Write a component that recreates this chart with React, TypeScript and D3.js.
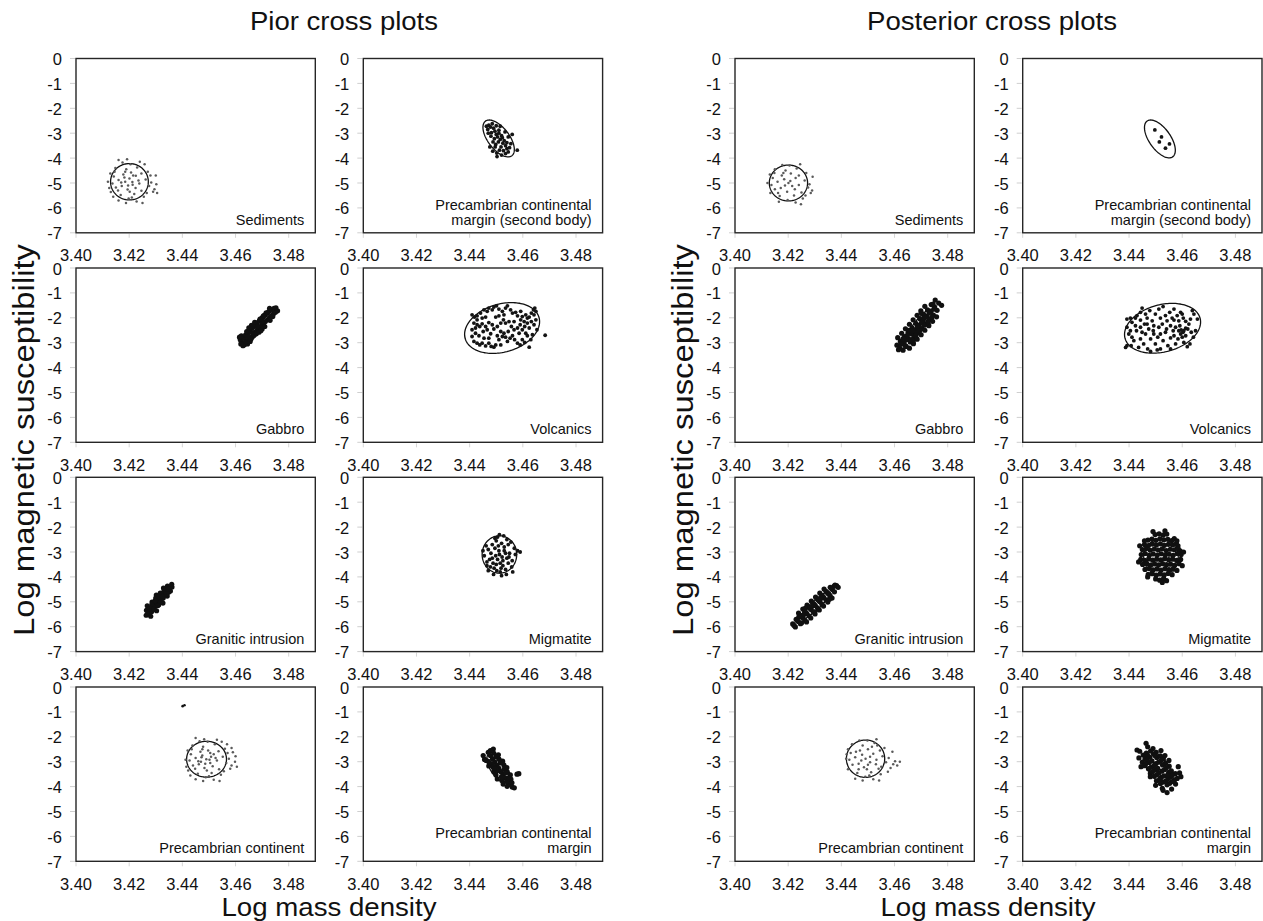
import React from 'react';
import * as d3 from 'd3';

type Pt = [number, number];
// [centre density, centre log susceptibility, half-width (density), half-height (log k), correlation]
type Ell = [number, number, number, number, number];

const X_TICKS = [3.40, 3.42, 3.44, 3.46, 3.48];
const Y_TICKS = [0, -1, -2, -3, -4, -5, -6, -7];
const X_DOMAIN: [number, number] = [3.40, 3.49];
const Y_DOMAIN: [number, number] = [0, -7];

const GROUP_TITLES = ['Pior cross plots', 'Posterior cross plots'];
const X_TITLE = 'Log mass density';
const Y_TITLE = 'Log magnetic susceptibility';

// ---------------- prior samples ----------------
const priorSediments: Pt[] = [
  [3.4185,-4.95],[3.4201,-4.82],[3.4213,-5.07],[3.4172,-5.12],[3.4225,-4.71],[3.4194,-5.26],[3.4160,-4.88],[3.4238,-5.02],
  [3.4207,-4.58],[3.4178,-4.66],[3.4246,-5.31],[3.4150,-5.18],[3.4219,-5.44],[3.4189,-4.45],[3.4262,-4.86],[3.4142,-4.74],
  [3.4230,-4.38],[3.4168,-5.48],[3.4255,-5.55],[3.4137,-5.02],[3.4275,-5.12],[3.4198,-5.62],[3.4148,-4.40],[3.4270,-4.55],
  [3.4283,-4.98],[3.4205,-4.25],[3.4175,-4.18],[3.4129,-4.62],[3.4240,-4.15],[3.4160,-5.70],[3.4228,-5.74],[3.4290,-5.35],
  [3.4131,-5.36],[3.4300,-4.70],[3.4302,-5.05],[3.4295,-5.25],[3.4305,-5.40],[3.4250,-5.80],[3.4188,-5.80],[3.4120,-4.95],
  [3.4192,-4.05],[3.4160,-4.08],[3.4258,-4.25],[3.4140,-5.55],[3.4212,-4.96],[3.4196,-5.10],[3.4182,-4.78],[3.4224,-5.20],
  [3.4170,-4.98],[3.4235,-4.90],[3.4202,-5.35],[3.4158,-5.30],[3.4246,-4.62],[3.4185,-4.55],[3.4215,-4.70],[3.4266,-5.40],
  [3.4145,-4.55],[3.4280,-4.70],[3.4125,-5.20],[3.4210,-5.58]
];
const priorSedimentsEllipse: Ell = [3.4201, -4.95, 0.0071, 0.73, 0];

const priorMarginSecond: Pt[] = [
  [3.4472,-2.68],[3.4478,-2.75],[3.4485,-2.62],[3.4490,-2.80],[3.4468,-2.85],[3.4495,-2.92],[3.4482,-2.98],[3.4500,-3.05],
  [3.4510,-2.88],[3.4505,-3.15],[3.4493,-3.22],[3.4515,-3.25],[3.4520,-3.10],[3.4508,-3.35],[3.4525,-3.40],[3.4498,-3.45],
  [3.4530,-3.30],[3.4518,-3.55],[3.4535,-3.50],[3.4540,-3.62],[3.4527,-3.70],[3.4545,-3.75],[3.4512,-3.68],[3.4550,-3.58],
  [3.4502,-3.80],[3.4520,-3.88],[3.4487,-3.72],[3.4476,-3.55],[3.4533,-2.95],[3.4545,-3.15],[3.4560,-3.05],[3.4579,-3.68],
  [3.4503,-3.94],[3.4488,-3.35],[3.4480,-3.12],[3.4515,-2.72],[3.4500,-2.70],[3.4463,-2.72],[3.4540,-3.38],[3.4555,-3.42],
  [3.4510,-3.00],[3.4523,-3.18],[3.4496,-3.55],[3.4535,-3.82],[3.4470,-3.00]
];
const priorMarginSecondEllipse: Ell = [3.4509, -3.21, 0.0059, 0.74, -0.6];

const priorGabbro: Pt[] = [
  [3.4625,-3.00],[3.4633,-3.08],[3.4618,-2.88],[3.4640,-2.95],[3.4630,-2.80],[3.4645,-3.05],[3.4622,-2.72],[3.4650,-2.85],
  [3.4638,-2.68],[3.4655,-2.95],[3.4648,-2.62],[3.4660,-2.78],[3.4642,-2.55],[3.4668,-2.70],[3.4655,-2.50],[3.4672,-2.58],
  [3.4662,-2.42],[3.4680,-2.52],[3.4670,-2.35],[3.4685,-2.45],[3.4676,-2.28],[3.4692,-2.38],[3.4682,-2.20],[3.4698,-2.30],
  [3.4690,-2.12],[3.4705,-2.22],[3.4697,-2.05],[3.4712,-2.15],[3.4703,-1.98],[3.4720,-2.08],[3.4710,-1.90],[3.4727,-2.00],
  [3.4718,-1.82],[3.4735,-1.92],[3.4725,-1.75],[3.4742,-1.85],[3.4735,-1.68],[3.4750,-1.78],[3.4745,-1.62],[3.4758,-1.72],
  [3.4728,-1.62],[3.4665,-2.62],[3.4678,-2.64],[3.4688,-2.58],[3.4700,-2.45],[3.4660,-2.30],[3.4672,-2.18],[3.4695,-2.52],
  [3.4710,-2.35],[3.4715,-1.80],[3.4730,-2.10],[3.4650,-2.40],[3.4636,-2.98],[3.4628,-3.12],[3.4620,-3.05],[3.4645,-2.75],
  [3.4683,-2.35],[3.4700,-2.15],[3.4740,-1.95],[3.4752,-1.60],[3.4615,-2.78],[3.4658,-2.85],[3.4705,-1.92],[3.4692,-2.05]
];
const priorGabbroEllipse: Ell = [3.4687, -2.33, 0.0040, 0.60, 0.88];

const priorVolcanics: Pt[] = [
  [3.4409,-1.88],[3.4418,-1.97],[3.4428,-1.92],[3.4441,-1.81],[3.4454,-1.68],[3.4466,-1.74],[3.4472,-1.61],[3.4485,-1.68],
  [3.4491,-1.57],[3.4501,-1.52],[3.4510,-1.65],[3.4523,-1.74],[3.4535,-1.61],[3.4542,-1.52],[3.4554,-1.68],[3.4561,-1.81],
  [3.4573,-1.78],[3.4580,-1.92],[3.4592,-1.74],[3.4598,-1.95],[3.4611,-1.88],[3.4617,-2.01],[3.4624,-1.97],[3.4632,-1.81],
  [3.4640,-1.68],[3.4642,-1.88],[3.4649,-1.74],[3.4645,-1.61],
  [3.4416,-2.21],[3.4428,-2.28],[3.4438,-2.35],[3.4447,-2.24],[3.4460,-2.35],[3.4472,-2.19],[3.4485,-2.28],[3.4491,-2.45],
  [3.4504,-2.35],[3.4517,-2.21],[3.4527,-2.08],[3.4535,-2.21],[3.4548,-2.15],[3.4557,-2.35],[3.4567,-2.15],[3.4580,-2.41],
  [3.4590,-2.28],[3.4598,-2.48],[3.4607,-2.35],[3.4617,-2.21],[3.4624,-2.41],[3.4632,-2.15],[3.4642,-2.28],[3.4649,-2.08],
  [3.4409,-2.75],[3.4416,-2.95],[3.4428,-3.02],[3.4438,-3.09],[3.4447,-3.02],[3.4460,-3.13],[3.4472,-3.02],[3.4481,-3.15],
  [3.4491,-3.18],[3.4498,-3.09],[3.4510,-2.88],[3.4523,-2.75],[3.4529,-2.62],[3.4535,-2.78],[3.4542,-2.95],[3.4552,-2.82],
  [3.4561,-2.72],[3.4569,-2.88],[3.4580,-3.02],[3.4590,-3.09],[3.4598,-2.88],[3.4607,-2.99],[3.4617,-2.72],[3.4624,-3.18],
  [3.4630,-2.88],[3.4636,-2.68],[3.4422,-2.62],[3.4435,-2.72],[3.4451,-2.55],[3.4466,-2.48],[3.4479,-2.64],[3.4504,-2.72],
  [3.4517,-2.55],[3.4545,-2.55],[3.4586,-2.62],[3.4611,-2.62],[3.4653,-2.48],[3.4684,-2.70],
  [3.4409,-2.48],[3.4422,-2.41],[3.4567,-2.48],[3.4517,-3.09],[3.4472,-2.82],[3.4454,-2.82],[3.4592,-2.08],[3.4605,-2.15],
  [3.4498,-1.97],[3.4510,-1.92],[3.4529,-1.88],[3.4460,-1.97],[3.4447,-2.01],[3.4428,-2.08]
];
const priorVolcanicsEllipse: Ell = [3.4522, -2.41, 0.0141, 1.02, 0.25];

const priorGranitic: Pt[] = [
  [3.4264,-5.54],[3.4281,-5.58],[3.4265,-5.34],[3.4284,-5.40],[3.4268,-5.16],[3.4303,-5.36],[3.4293,-5.17],[3.4286,-5.01],
  [3.4311,-5.12],[3.4301,-4.93],[3.4327,-5.05],[3.4302,-4.73],[3.4328,-4.85],[3.4317,-4.65],[3.4343,-4.77],[3.4336,-4.61],
  [3.4329,-4.45],[3.4355,-4.57],[3.4344,-4.37],[3.4361,-4.41],[3.4360,-4.30],[3.4274,-5.42],[3.4288,-5.23],[3.4312,-4.92],
  [3.4290,-5.05],[3.4296,-5.20],[3.4305,-5.05],[3.4315,-4.95],[3.4320,-4.90],[3.4300,-4.85],[3.4322,-4.70],[3.4330,-4.60],
  [3.4338,-4.68],[3.4310,-4.80],[3.4285,-5.12],[3.4278,-5.25],[3.4275,-5.48],[3.4292,-5.30],[3.4335,-4.50],[3.4348,-4.62],
  [3.4318,-5.02],[3.4308,-5.15],[3.4325,-4.78],[3.4298,-4.95],[3.4346,-4.49],[3.4269,-5.48]
];
const priorGraniticEllipse: Ell = [3.4312, -4.93, 0.0035, 0.45, 0.9];

const priorMigmatite: Pt[] = [
  [3.4512,-3.10],[3.4495,-2.85],[3.4530,-2.95],[3.4505,-3.30],[3.4540,-3.25],[3.4480,-3.05],[3.4520,-2.65],[3.4488,-3.45],
  [3.4550,-3.05],[3.4470,-2.90],[3.4525,-3.55],[3.4500,-2.55],[3.4545,-2.70],[3.4475,-3.30],[3.4560,-3.35],[3.4515,-3.80],
  [3.4492,-3.65],[3.4535,-3.70],[3.4505,-2.40],[3.4528,-2.35],[3.4465,-3.55],[3.4568,-2.85],[3.4558,-3.60],[3.4462,-2.75],
  [3.4510,-2.95],[3.4498,-3.15],[3.4522,-3.20],[3.4535,-3.05],[3.4485,-2.70],[3.4540,-2.50],[3.4515,-3.45],[3.4545,-3.45],
  [3.4478,-3.60],[3.4502,-3.75],[3.4520,-3.95],[3.4490,-3.90],[3.4572,-3.10],[3.4580,-2.95],[3.4455,-3.15],[3.4450,-2.95],
  [3.4530,-2.80],[3.4508,-2.75],[3.4485,-3.25],[3.4555,-2.60],[3.4495,-2.45],[3.4470,-3.75],[3.4562,-3.80],[3.4518,-3.65],
  [3.4538,-3.90],[3.4500,-3.50],[3.4525,-3.35],[3.4548,-3.20],[3.4465,-3.40],[3.4590,-3.00],[3.4512,-2.30]
];
const priorMigmatiteEllipse: Ell = [3.4512, -3.10, 0.0065, 0.75, 0];

const priorContinent: Pt[] = [
  [3.4490,-2.90],[3.4475,-2.75],[3.4505,-3.05],[3.4462,-3.10],[3.4518,-2.70],[3.4483,-3.25],[3.4450,-2.85],[3.4530,-2.95],
  [3.4497,-2.55],[3.4468,-2.60],[3.4538,-3.30],[3.4440,-3.15],[3.4510,-3.45],[3.4478,-2.40],[3.4552,-2.80],[3.4432,-2.70],
  [3.4522,-2.30],[3.4458,-3.48],[3.4545,-3.52],[3.4427,-2.95],[3.4565,-3.05],[3.4488,-3.62],[3.4438,-2.35],[3.4560,-2.48],
  [3.4575,-2.88],[3.4495,-2.20],[3.4465,-2.18],[3.4420,-2.55],[3.4530,-2.12],[3.4450,-3.70],[3.4518,-3.72],[3.4580,-3.28],
  [3.4422,-3.35],[3.4590,-2.62],[3.4598,-3.00],[3.4585,-3.15],[3.4605,-3.20],[3.4540,-3.78],[3.4478,-3.78],[3.4412,-2.92],
  [3.4482,-2.10],[3.4450,-2.05],[3.4548,-2.20],[3.4430,-3.55],[3.4502,-2.92],[3.4486,-3.08],[3.4472,-2.82],[3.4514,-3.18],
  [3.4460,-2.98],[3.4525,-2.85],[3.4492,-3.35],[3.4448,-3.28],[3.4536,-2.58],[3.4475,-2.50],[3.4505,-2.65],[3.4556,-3.38],
  [3.4435,-2.50],[3.4570,-2.65],[3.4415,-3.20],[3.4500,-3.58],[3.4568,-2.30],[3.4585,-2.45],[3.4600,-2.78],[3.4470,-3.00],
  [3.4508,-2.80]
];
const priorContinentStray: Pt[] = [[3.4401, -0.77], [3.4408, -0.73]];
const priorContinentEllipse: Ell = [3.4491, -2.90, 0.0075, 0.72, 0];

const priorMargin: Pt[] = [
  [3.4470,-2.62],[3.4489,-2.49],[3.4451,-2.75],[3.4478,-2.75],[3.4491,-2.66],[3.4456,-2.91],[3.4486,-2.88],[3.4508,-2.72],
  [3.4470,-2.99],[3.4494,-3.01],[3.4510,-2.90],[3.4472,-3.17],[3.4502,-3.14],[3.4524,-2.98],[3.4489,-3.23],[3.4510,-3.27],
  [3.4529,-3.14],[3.4491,-3.40],[3.4518,-3.40],[3.4540,-3.24],[3.4499,-3.53],[3.4526,-3.53],[3.4542,-3.42],[3.4504,-3.69],
  [3.4534,-3.66],[3.4553,-3.53],[3.4521,-3.75],[3.4542,-3.79],[3.4555,-3.70],[3.4526,-3.90],[3.4550,-3.92],[3.4559,-3.85],
  [3.4541,-3.99],[3.4560,-4.02],[3.4568,-4.05],[3.4578,-3.50],[3.4585,-3.48],[3.4462,-2.95],[3.4478,-2.55],[3.4515,-3.05],
  [3.4505,-3.35],[3.4530,-3.30],[3.4520,-3.60],[3.4495,-3.25],[3.4485,-3.10],[3.4540,-3.80],[3.4500,-2.80],[3.4535,-3.45],
  [3.4548,-3.65],[3.4475,-3.05]
];
const priorMarginEllipse: Ell = [3.4505, -3.22, 0.0040, 0.58, -0.6];

// ---------------- posterior samples ----------------
const postSediments: Pt[] = [
  [3.4201,-5.00],[3.4185,-4.85],[3.4215,-5.12],[3.4172,-5.20],[3.4228,-4.80],[3.4196,-5.35],[3.4160,-4.95],[3.4240,-5.08],
  [3.4210,-4.62],[3.4176,-4.70],[3.4250,-5.38],[3.4150,-5.25],[3.4222,-5.50],[3.4190,-4.50],[3.4262,-4.90],[3.4142,-4.80],
  [3.4232,-4.42],[3.4168,-5.52],[3.4255,-5.62],[3.4137,-5.08],[3.4275,-5.18],[3.4198,-5.68],[3.4150,-4.45],[3.4268,-4.60],
  [3.4280,-5.05],[3.4205,-4.30],[3.4178,-4.28],[3.4131,-4.66],[3.4245,-4.25],[3.4165,-5.75],[3.4228,-5.78],[3.4285,-5.40],
  [3.4133,-5.40],[3.4292,-4.75],[3.4290,-5.30],[3.4248,-5.85],[3.4122,-5.00],[3.4208,-4.92],[3.4188,-5.10],[3.4225,-5.25],
  [3.4240,-4.70],[3.4182,-4.60],[3.4162,-5.40],[3.4265,-5.50],[3.4148,-4.60]
];
const postSedimentsEllipse: Ell = [3.4201, -5.00, 0.0072, 0.72, 0];

const postMarginSecond: Pt[] = [
  [3.4497,-2.87],[3.4522,-3.15],[3.4514,-3.35],[3.4552,-3.43],[3.4537,-3.60]
];
const postMarginSecondEllipse: Ell = [3.4516, -3.23, 0.0058, 0.76, -0.6];

const postGabbro: Pt[] = [
  [3.4609,-3.10],[3.4620,-3.22],[3.4632,-3.30],
  [3.4612,-2.80],[3.4622,-2.94],[3.4635,-3.01],[3.4644,-3.15],[3.4656,-3.22],
  [3.4627,-2.62],[3.4637,-2.76],[3.4650,-2.83],[3.4659,-2.97],[3.4671,-3.04],
  [3.4641,-2.44],[3.4651,-2.58],[3.4664,-2.65],[3.4673,-2.79],[3.4685,-2.86],
  [3.4656,-2.26],[3.4666,-2.40],[3.4679,-2.47],[3.4688,-2.61],[3.4700,-2.68],
  [3.4670,-2.08],[3.4680,-2.22],[3.4693,-2.29],[3.4702,-2.43],[3.4714,-2.50],
  [3.4685,-1.90],[3.4695,-2.04],[3.4708,-2.11],[3.4717,-2.25],[3.4729,-2.32],
  [3.4699,-1.72],[3.4709,-1.86],[3.4722,-1.93],[3.4731,-2.07],[3.4743,-2.14],
  [3.4714,-1.54],[3.4724,-1.68],[3.4737,-1.75],[3.4746,-1.89],[3.4758,-1.96],
  [3.4738,-1.47],[3.4751,-1.57],[3.4760,-1.70],
  [3.4753,-1.29],[3.4766,-1.41],[3.4777,-1.50],
  [3.4615,-3.28],[3.4670,-2.95],[3.4745,-1.45],[3.4700,-1.80],[3.4655,-2.50],[3.4728,-2.28],[3.4690,-2.35],[3.4710,-2.00],
  [3.4675,-2.55],[3.4640,-2.90],
  [3.4625,-3.05],[3.4640,-3.12],[3.4632,-2.85],[3.4648,-2.70],[3.4662,-2.88],[3.4668,-2.52],[3.4680,-2.72],[3.4686,-2.32],
  [3.4695,-2.52],[3.4702,-2.18],[3.4712,-2.30],[3.4716,-1.98],[3.4726,-2.15],[3.4730,-1.80],[3.4740,-1.98],[3.4748,-1.65]
];
const postGabbroEllipse: Ell = [3.4692, -2.30, 0.0050, 0.65, 0.88];

const postVolcanics: Pt[] = [
  [3.4392,-2.05],[3.4405,-2.01],[3.4411,-2.18],[3.4430,-1.91],[3.4443,-1.78],[3.4449,-1.61],[3.4462,-1.85],[3.4468,-2.01],
  [3.4478,-1.71],[3.4487,-2.12],[3.4499,-1.85],[3.4512,-1.65],[3.4518,-2.01],[3.4528,-1.55],[3.4537,-1.91],[3.4543,-2.12],
  [3.4553,-1.78],[3.4562,-2.01],[3.4569,-1.65],[3.4581,-1.91],[3.4587,-2.12],[3.4594,-1.78],[3.4604,-2.01],[3.4613,-2.14],
  [3.4625,-2.25],[3.4631,-2.05],[3.4638,-1.71],[3.4644,-1.85],[3.4650,-2.52],[3.4642,-2.78],[3.4629,-3.05],[3.4619,-3.16],
  [3.4606,-2.99],[3.4594,-2.65],[3.4584,-2.85],[3.4575,-3.05],[3.4566,-2.52],[3.4556,-2.81],[3.4546,-3.12],[3.4537,-2.58],
  [3.4528,-2.92],[3.4518,-3.25],[3.4508,-2.78],[3.4499,-3.05],[3.4491,-2.52],[3.4481,-2.85],[3.4470,-3.25],[3.4462,-2.65],
  [3.4455,-3.05],[3.4443,-2.85],[3.4436,-3.19],[3.4428,-2.52],[3.4418,-2.92],[3.4408,-3.12],[3.4399,-2.65],[3.4392,-2.38],
  [3.4405,-2.52],[3.4424,-2.32],[3.4443,-2.38],[3.4458,-2.25],[3.4474,-2.45],[3.4493,-2.32],[3.4512,-2.38],[3.4525,-2.25],
  [3.4541,-2.45],[3.4556,-2.32],[3.4575,-2.38],[3.4591,-2.32],[3.4606,-2.52],[3.4621,-2.45],[3.4634,-2.58],[3.4613,-2.72],
  [3.4600,-2.78],[3.4569,-2.72],[3.4518,-2.65],[3.4493,-2.65],[3.4449,-2.58],[3.4411,-2.78],[3.4392,-3.12],[3.4387,-3.19],
  [3.4506,-3.29],[3.4481,-3.35],[3.4556,-3.25],[3.4587,-2.52],[3.4603,-2.58],[3.4596,-2.49],[3.4613,-2.42],[3.4443,-2.09],
  [3.4424,-2.01],[3.4468,-2.25],[3.4569,-2.09],[3.4600,-1.85],[3.4657,-2.05]
];
const postVolcanicsEllipse: Ell = [3.4526, -2.42, 0.0143, 1.0, 0.25];

const postGranitic: Pt[] = [
  [3.4217,-5.89],[3.4222,-5.95],[3.4227,-6.01],
  [3.4230,-5.70],[3.4238,-5.79],[3.4246,-5.88],
  [3.4239,-5.45],[3.4246,-5.54],[3.4254,-5.63],[3.4262,-5.72],[3.4269,-5.81],
  [3.4255,-5.29],[3.4262,-5.38],[3.4270,-5.47],[3.4278,-5.56],[3.4285,-5.65],
  [3.4271,-5.13],[3.4278,-5.22],[3.4286,-5.31],[3.4294,-5.40],[3.4301,-5.49],
  [3.4287,-4.97],[3.4294,-5.06],[3.4302,-5.15],[3.4310,-5.24],[3.4317,-5.33],
  [3.4303,-4.81],[3.4310,-4.90],[3.4318,-4.99],[3.4326,-5.08],[3.4333,-5.17],
  [3.4319,-4.65],[3.4326,-4.74],[3.4334,-4.83],[3.4342,-4.92],[3.4349,-5.01],
  [3.4335,-4.49],[3.4342,-4.58],[3.4350,-4.67],[3.4358,-4.76],[3.4365,-4.85],
  [3.4358,-4.42],[3.4366,-4.51],[3.4374,-4.60],
  [3.4376,-4.33],[3.4382,-4.35],[3.4388,-4.42],
  [3.4240,-5.60],[3.4300,-5.40],[3.4372,-4.38],[3.4355,-4.90],[3.4265,-5.25],[3.4250,-5.85],
  [3.4234,-5.75],[3.4250,-5.58],[3.4266,-5.42],[3.4282,-5.26],[3.4298,-5.10],[3.4314,-4.94],[3.4330,-4.78],
  [3.4346,-4.62],[3.4362,-4.46],[3.4258,-5.52],[3.4290,-5.18],[3.4322,-4.88],[3.4354,-4.70]
];
const postGraniticEllipse: Ell = [3.4302, -5.15, 0.0055, 0.55, 0.9];

const postMigmatite: Pt[] = [
  [3.4498,-2.30],[3.4513,-2.27],[3.4528,-2.32],[3.4542,-2.28],
  [3.4471,-2.52],[3.4486,-2.48],[3.4501,-2.53],[3.4516,-2.47],[3.4531,-2.51],[3.4546,-2.49],[3.4561,-2.54],[3.4570,-2.46],
  [3.4458,-2.70],[3.4473,-2.74],[3.4488,-2.68],[3.4503,-2.72],[3.4518,-2.67],[3.4533,-2.73],[3.4548,-2.69],[3.4563,-2.71],
  [3.4578,-2.66],[3.4584,-2.75],
  [3.4450,-2.90],[3.4465,-2.86],[3.4480,-2.93],[3.4495,-2.88],[3.4510,-2.92],[3.4525,-2.87],[3.4540,-2.94],[3.4555,-2.89],
  [3.4570,-2.91],[3.4585,-2.87],[3.4592,-2.95],
  [3.4446,-3.10],[3.4461,-3.06],[3.4476,-3.13],[3.4491,-3.08],[3.4506,-3.12],[3.4521,-3.07],[3.4536,-3.11],[3.4551,-3.09],
  [3.4566,-3.13],[3.4581,-3.06],[3.4596,-3.10],
  [3.4444,-3.30],[3.4459,-3.34],[3.4474,-3.28],[3.4489,-3.33],[3.4504,-3.29],[3.4519,-3.32],[3.4534,-3.27],[3.4549,-3.31],
  [3.4564,-3.29],[3.4579,-3.34],[3.4594,-3.30],
  [3.4451,-3.50],[3.4466,-3.46],[3.4481,-3.53],[3.4496,-3.48],[3.4511,-3.52],[3.4526,-3.47],[3.4541,-3.51],[3.4556,-3.49],
  [3.4571,-3.54],[3.4588,-3.47],
  [3.4460,-3.70],[3.4475,-3.66],[3.4490,-3.72],[3.4505,-3.68],[3.4520,-3.73],[3.4535,-3.67],[3.4550,-3.71],[3.4565,-3.69],
  [3.4580,-3.74],
  [3.4472,-3.90],[3.4487,-3.87],[3.4502,-3.93],[3.4517,-3.88],[3.4532,-3.92],[3.4547,-3.86],[3.4562,-3.91],
  [3.4500,-4.08],[3.4515,-4.13],[3.4530,-4.06],[3.4541,-4.15],
  [3.4490,-2.18],[3.4535,-2.15],[3.4440,-2.75],[3.4605,-3.00],[3.4436,-3.40],[3.4600,-3.55],[3.4525,-4.22],[3.4470,-4.00],
  [3.4580,-2.55],[3.4458,-2.55]
];
const postMigmatiteEllipse: Ell = [3.4520, -3.20, 0.0065, 0.72, 0];

const postContinent: Pt[] = [
  [3.4491,-2.88],[3.4478,-2.72],[3.4508,-3.02],[3.4465,-3.08],[3.4520,-2.68],[3.4485,-3.22],[3.4452,-2.82],[3.4532,-2.92],
  [3.4500,-2.50],[3.4470,-2.55],[3.4540,-3.28],[3.4442,-3.12],[3.4512,-3.42],[3.4480,-2.35],[3.4555,-2.78],[3.4435,-2.65],
  [3.4525,-2.25],[3.4460,-3.45],[3.4548,-3.50],[3.4430,-2.92],[3.4568,-3.02],[3.4490,-3.60],[3.4440,-2.30],[3.4562,-2.45],
  [3.4578,-2.85],[3.4498,-2.15],[3.4468,-2.15],[3.4425,-2.50],[3.4532,-2.10],[3.4452,-3.68],[3.4520,-3.70],[3.4585,-3.25],
  [3.4425,-3.30],[3.4592,-2.60],[3.4602,-2.98],[3.4595,-3.10],[3.4610,-3.15],[3.4542,-3.75],[3.4480,-3.75],[3.4418,-2.88],
  [3.4508,-2.80],[3.4475,-2.95],[3.4530,-3.10],[3.4496,-3.30],[3.4455,-2.60],[3.4545,-2.55],[3.4515,-2.40],[3.4465,-3.30],
  [3.4550,-3.20],[3.4500,-3.12],[3.4620,-3.00],[3.4575,-3.40],[3.4420,-2.70],[3.4535,-2.35],[3.4505,-3.55]
];
const postContinentEllipse: Ell = [3.4491, -2.88, 0.0072, 0.75, 0];

const postMargin: Pt[] = [
  [3.4437,-2.85],[3.4453,-2.73],[3.4465,-2.65],[3.4481,-2.57],[3.4490,-2.47],
  [3.4450,-3.02],[3.4460,-2.88],[3.4478,-2.82],[3.4492,-2.68],[3.4502,-2.62],
  [3.4458,-3.16],[3.4476,-3.03],[3.4486,-2.97],[3.4504,-2.83],[3.4518,-2.77],
  [3.4473,-3.28],[3.4483,-3.22],[3.4501,-3.08],[3.4511,-3.02],[3.4529,-2.88],
  [3.4480,-3.47],[3.4498,-3.33],[3.4508,-3.27],[3.4526,-3.13],[3.4536,-3.07],
  [3.4495,-3.58],[3.4505,-3.52],[3.4523,-3.38],[3.4533,-3.32],[3.4551,-3.18],
  [3.4503,-3.77],[3.4521,-3.63],[3.4531,-3.57],[3.4549,-3.43],[3.4559,-3.37],
  [3.4518,-3.88],[3.4528,-3.82],[3.4546,-3.68],[3.4556,-3.62],[3.4574,-3.48],
  [3.4525,-4.07],[3.4543,-3.93],[3.4553,-3.87],[3.4571,-3.73],[3.4581,-3.67],
  [3.4430,-2.53],[3.4440,-2.58],[3.4464,-2.26],[3.4543,-4.24],[3.4560,-4.10],[3.4590,-3.45],[3.4595,-3.60],[3.4470,-2.40],
  [3.4520,-2.55],[3.4535,-2.75],[3.4500,-3.95],[3.4575,-3.90],[3.4445,-3.20],[3.4550,-2.95],[3.4585,-3.20],[3.4480,-3.60],
  [3.4528,-4.15],[3.4512,-3.45],[3.4540,-3.25],[3.4495,-3.15],[3.4468,-2.95],[3.4562,-3.55],[3.4538,-3.78],
  [3.4470,-2.75],[3.4488,-3.40],[3.4515,-3.70],[3.4544,-3.55],[3.4520,-2.95],[3.4497,-2.75],[3.4566,-3.80],[3.4462,-3.10]
];
const postMarginEllipse: Ell = [3.4510, -3.25, 0.0050, 0.62, -0.5];

// ---------------- layout ----------------
const GROUP_LEFT = [[76, 363.3], [735, 1022.7]];
const ROW_TOP = [58.5, 268, 477.3, 687];
const PW = 239.3;
const PH = 174.3;
const TITLE_X = [344, 992];
const X_TITLE_X = [329, 988];
const Y_TITLE_X = [34, 693];
const FONT = "'Liberation Sans', Arial, Helvetica, sans-serif";

type Kind = 'grey' | 'dot' | 'dense';
interface PanelSpec {
  group: number; col: number; row: number;
  name: string[]; pts: Pt[]; ell: Ell; kind: Kind; extra?: Pt[];
}

const PANELS: PanelSpec[] = [
  { group: 0, col: 0, row: 0, name: ['Sediments'], pts: priorSediments, ell: priorSedimentsEllipse, kind: 'grey' },
  { group: 0, col: 1, row: 0, name: ['Precambrian continental', 'margin (second body)'], pts: priorMarginSecond, ell: priorMarginSecondEllipse, kind: 'dot' },
  { group: 0, col: 0, row: 1, name: ['Gabbro'], pts: priorGabbro, ell: priorGabbroEllipse, kind: 'dense' },
  { group: 0, col: 1, row: 1, name: ['Volcanics'], pts: priorVolcanics, ell: priorVolcanicsEllipse, kind: 'dot' },
  { group: 0, col: 0, row: 2, name: ['Granitic intrusion'], pts: priorGranitic, ell: priorGraniticEllipse, kind: 'dense' },
  { group: 0, col: 1, row: 2, name: ['Migmatite'], pts: priorMigmatite, ell: priorMigmatiteEllipse, kind: 'dot' },
  { group: 0, col: 0, row: 3, name: ['Precambrian continent'], pts: priorContinent, ell: priorContinentEllipse, kind: 'grey', extra: priorContinentStray },
  { group: 0, col: 1, row: 3, name: ['Precambrian continental', 'margin'], pts: priorMargin, ell: priorMarginEllipse, kind: 'dense' },
  { group: 1, col: 0, row: 0, name: ['Sediments'], pts: postSediments, ell: postSedimentsEllipse, kind: 'grey' },
  { group: 1, col: 1, row: 0, name: ['Precambrian continental', 'margin (second body)'], pts: postMarginSecond, ell: postMarginSecondEllipse, kind: 'dot' },
  { group: 1, col: 0, row: 1, name: ['Gabbro'], pts: postGabbro, ell: postGabbroEllipse, kind: 'dense' },
  { group: 1, col: 1, row: 1, name: ['Volcanics'], pts: postVolcanics, ell: postVolcanicsEllipse, kind: 'dot' },
  { group: 1, col: 0, row: 2, name: ['Granitic intrusion'], pts: postGranitic, ell: postGraniticEllipse, kind: 'dense' },
  { group: 1, col: 1, row: 2, name: ['Migmatite'], pts: postMigmatite, ell: postMigmatiteEllipse, kind: 'dense' },
  { group: 1, col: 0, row: 3, name: ['Precambrian continent'], pts: postContinent, ell: postContinentEllipse, kind: 'grey' },
  { group: 1, col: 1, row: 3, name: ['Precambrian continental', 'margin'], pts: postMargin, ell: postMarginEllipse, kind: 'dense' },
];

const DOT_STYLE: Record<Kind, { r: number; fill: string }> = {
  grey: { r: 1.25, fill: '#5a5a5a' },
  dot: { r: 1.9, fill: '#141414' },
  dense: { r: 2.6, fill: '#101010' },
};

const ANGLES = d3.range(0, 2 * Math.PI + 1e-6, Math.PI / 72);

function Panel({ p }: { p: PanelSpec }) {
  const left = GROUP_LEFT[p.group][p.col];
  const top = ROW_TOP[p.row];
  const x = d3.scaleLinear().domain(X_DOMAIN).range([left, left + PW]);
  const y = d3.scaleLinear().domain(Y_DOMAIN).range([top, top + PH]);
  const [cx, cy, sx, sy, rho] = p.ell;
  const k = Math.sqrt(1 - rho * rho);
  const ellipse = d3.line<number>()
    .x((t) => x(cx + sx * Math.cos(t)))
    .y((t) => y(cy + sy * (rho * Math.cos(t) + k * Math.sin(t))))(ANGLES);
  const st = DOT_STYLE[p.kind];
  const bottom = top + PH;
  const right = left + PW;
  const nLines = p.name.length;
  return (
    <g>
      <rect x={left} y={top} width={PW} height={PH} fill="#fff" />
      {Y_TICKS.map((v) => (
        <line key={'yt' + v} x1={left - 6} x2={left - 1} y1={y(v)} y2={y(v)} stroke="#cfcfcf" strokeWidth={1} />
      ))}
      {X_TICKS.map((v) => (
        <line key={'xt' + v} x1={x(v)} x2={x(v)} y1={bottom + 1} y2={bottom + 5} stroke="#d6d6d6" strokeWidth={1} />
      ))}
      <path d={(ellipse || '') + 'Z'} fill="none" stroke="#111" strokeWidth={1.3} />
      {p.pts.map((d, i) => (
        <circle key={i} cx={x(d[0])} cy={y(d[1])} r={st.r} fill={st.fill} />
      ))}
      {(p.extra || []).map((d, i) => (
        <circle key={'e' + i} cx={x(d[0])} cy={y(d[1])} r={1.3} fill="#111" />
      ))}
      <rect x={left} y={top} width={PW} height={PH} fill="none" stroke="#262626" strokeWidth={1.4} />
      {Y_TICKS.map((v) => (
        <text key={'yl' + v} x={left - 14} y={y(v) + 6.5} textAnchor="end" fontSize={16.5} fill="#111">
          {v === 0 ? '0' : '-' + Math.abs(v)}
        </text>
      ))}
      {X_TICKS.map((v) => (
        <text key={'xl' + v} x={x(v)} y={bottom + 28.5} textAnchor="middle" fontSize={16.5} fill="#111">
          {v.toFixed(2)}
        </text>
      ))}
      {p.name.map((s, i) => (
        <text key={'n' + i} x={right - 11} y={bottom - 8 - (nLines - 1 - i) * 15.2} textAnchor="end" fontSize={14.5} fill="#111">
          {s}
        </text>
      ))}
    </g>
  );
}

export default function App() {
  return (
    <div style={{ position: 'absolute', left: 0, top: 0 }}>
      <svg width={1263} height={921} viewBox="0 0 1263 921" style={{ display: 'block', background: '#fff' }} fontFamily={FONT}>
        <rect x={0} y={0} width={1263} height={921} fill="#fff" />
        {GROUP_TITLES.map((t, g) => (
          <text key={'t' + g} x={TITLE_X[g]} y={30} textAnchor="middle" fontSize={26.5} fill="#111"
            textLength={g === 0 ? 188 : 250} lengthAdjust="spacingAndGlyphs">{t}</text>
        ))}
        {GROUP_TITLES.map((_, g) => (
          <text key={'xt' + g} x={X_TITLE_X[g]} y={916} textAnchor="middle" fontSize={26} fill="#111"
            textLength={215} lengthAdjust="spacingAndGlyphs">{X_TITLE}</text>
        ))}
        {GROUP_TITLES.map((_, g) => (
          <text key={'yt' + g} transform={`translate(${Y_TITLE_X[g]},636) rotate(-90)`} x={0} y={0} fontSize={29} fill="#111"
            textLength={392} lengthAdjust="spacingAndGlyphs">{Y_TITLE}</text>
        ))}
        {PANELS.map((p, i) => <Panel key={i} p={p} />)}
      </svg>
    </div>
  );
}
